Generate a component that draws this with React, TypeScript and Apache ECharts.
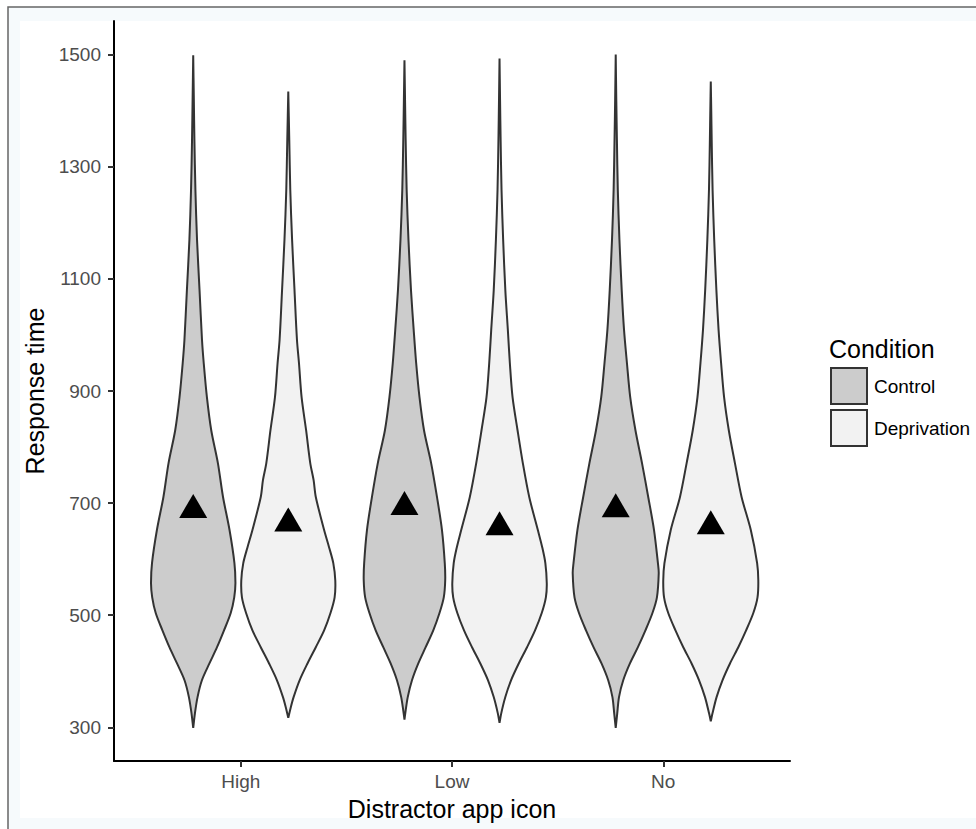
import React, { useEffect, useRef } from "react";
import * as echarts from "echarts";

const categories = ["High", "Low", "No"];
const conditions = ["Control", "Deprivation"];
const yTicks = [300, 500, 700, 900, 1100, 1300, 1500];
const meanControl = [695, 700, 696];
const meanDeprivation = [671, 664, 666];

// violin profiles: [response time, scaled density (1 = widest violin)]
const highControl = [[299,0],[325,0.036],[354,0.091],[384,0.183],[414,0.341],[443,0.501],[473,0.648],[504,0.789],[532,0.863],[557,0.888],[593,0.867],[652,0.764],[711,0.627],[771,0.52],[830,0.379],[889,0.288],[950,0.221],[991,0.185],[1080,0.133],[1170,0.08],[1259,0.046],[1348,0.025],[1420,0.013],[1499,0]];
const highDeprivation = [[317,0],[336,0.053],[354,0.112],[384,0.238],[414,0.404],[443,0.579],[473,0.754],[504,0.888],[532,0.975],[562,0.989],[593,0.947],[621,0.859],[652,0.754],[711,0.579],[741,0.533],[771,0.463],[830,0.375],[889,0.28],[950,0.225],[991,0.183],[1080,0.131],[1170,0.08],[1259,0.042],[1348,0.021],[1434,0]];
const lowControl = [[314,0],[330,0.025],[354,0.069],[384,0.158],[414,0.291],[443,0.446],[473,0.606],[504,0.737],[532,0.827],[562,0.857],[593,0.848],[652,0.789],[711,0.684],[771,0.562],[830,0.411],[889,0.316],[950,0.246],[1009,0.194],[1080,0.137],[1170,0.084],[1259,0.046],[1348,0.025],[1420,0.012],[1490,0]];
const lowDeprivation = [[308,0],[325,0.036],[354,0.122],[384,0.242],[414,0.404],[443,0.579],[473,0.747],[504,0.888],[532,0.975],[557,0.994],[593,0.964],[621,0.899],[652,0.806],[711,0.625],[771,0.491],[830,0.379],[889,0.274],[950,0.217],[1009,0.175],[1080,0.122],[1170,0.076],[1259,0.042],[1348,0.023],[1420,0.011],[1493,0]];
const noControl = [[299,0],[325,0.032],[354,0.069],[384,0.158],[414,0.299],[443,0.467],[473,0.625],[504,0.773],[532,0.867],[575,0.905],[593,0.888],[652,0.806],[711,0.684],[771,0.554],[830,0.415],[889,0.305],[950,0.236],[1009,0.175],[1080,0.126],[1170,0.078],[1259,0.044],[1348,0.025],[1420,0.012],[1500,0]];
const noDeprivation = [[311,0],[325,0.036],[354,0.122],[384,0.246],[414,0.404],[443,0.579],[473,0.743],[504,0.895],[532,0.983],[562,1.0],[593,0.975],[652,0.842],[711,0.648],[771,0.509],[830,0.379],[889,0.28],[950,0.217],[1009,0.164],[1080,0.118],[1170,0.072],[1259,0.038],[1348,0.019],[1400,0.01],[1452,0]];

const controlProfiles = [highControl, lowControl, noControl];
const deprivationProfiles = [highDeprivation, lowDeprivation, noDeprivation];

const FONT = "Liberation Sans, Arial, Helvetica, sans-serif";
const DODGE = 0.225;
const HALF_MAX = 0.225;
const FILLS = ["#cccccc", "#f2f2f2"];
const OUTLINE = "#333333";

function makeRender(profiles: number[][][], offset: number, fill: string) {
  return (params: any, api: any) => {
    const i = params.dataIndex;
    const prof = profiles[i];
    const cx = i + 1 + offset;
    const right = prof.map(([v, d]) => api.coord([cx + d * HALF_MAX, v]));
    const left = prof
      .slice()
      .reverse()
      .map(([v, d]) => api.coord([cx - d * HALF_MAX, v]));
    return {
      type: "polygon",
      shape: { points: right.concat(left), smooth: 0.3 },
      style: { fill, stroke: OUTLINE, lineWidth: 2 },
    };
  };
}

export default function App() {
  const ref = useRef<HTMLDivElement>(null);
  useEffect(() => {
    if (!ref.current) return;
    const chart = echarts.init(ref.current, undefined, { renderer: "svg" });
    const option: any = {
      animation: false,
      backgroundColor: "#ffffff",
      textStyle: { fontFamily: FONT },
      graphic: {
        elements: [
          {
            type: "rect",
            z: -10,
            silent: true,
            shape: { x: 8, y: 7, width: 980, height: 840 },
            style: { fill: "#f6fafc", stroke: "#666666", lineWidth: 1.5 },
          },
          {
            type: "rect",
            z: -9,
            silent: true,
            shape: { x: 20, y: 21, width: 960, height: 797 },
            style: { fill: "#ffffff" },
          },
          {
            type: "text",
            left: 829,
            top: 336,
            style: { text: "Condition", font: `25px ${FONT}`, fill: "#000000" },
          },
        ],
      },
      grid: { left: 114, top: 21, right: 186, bottom: 68, containLabel: false },
      legend: {
        data: conditions,
        orient: "vertical",
        left: 830,
        top: 367,
        padding: 0,
        icon: "rect",
        itemWidth: 36,
        itemHeight: 36,
        itemGap: 4,
        itemStyle: { borderColor: OUTLINE, borderWidth: 2 },
        textStyle: { fontSize: 19, color: "#000000", fontFamily: FONT, padding: [0, 0, 0, 2] },
        selectedMode: false,
      },
      xAxis: {
        type: "value",
        min: 0.4,
        max: 3.6,
        name: "Distractor app icon",
        nameLocation: "middle",
        nameGap: 35,
        nameTextStyle: { fontSize: 25, color: "#000000", fontFamily: FONT },
        axisLine: { show: true, lineStyle: { color: "#000000", width: 2 } },
        axisTick: { show: true, length: 6, customValues: [1, 2, 3], lineStyle: { color: "#333333", width: 2 } },
        axisLabel: {
          show: true,
          customValues: [1, 2, 3],
          formatter: (v: number) => categories[Math.round(v) - 1] ?? "",
          fontSize: 19,
          color: "#4d4d4d",
          margin: 11,
          fontFamily: FONT,
        },
        splitLine: { show: false },
      },
      yAxis: {
        type: "value",
        min: 240,
        max: 1560,
        name: "Response time",
        nameLocation: "middle",
        nameGap: 66,
        nameTextStyle: { fontSize: 25, color: "#000000", fontFamily: FONT },
        axisLine: { show: true, lineStyle: { color: "#000000", width: 2 } },
        axisTick: { show: true, length: 6, customValues: yTicks, lineStyle: { color: "#333333", width: 2 } },
        axisLabel: {
          show: true,
          customValues: yTicks,
          formatter: (v: number) => String(v),
          fontSize: 19,
          color: "#4d4d4d",
          margin: 13,
          fontFamily: FONT,
        },
        splitLine: { show: false },
      },
      series: [
        {
          name: conditions[0],
          type: "custom",
          renderItem: makeRender(controlProfiles, -DODGE, FILLS[0]),
          itemStyle: { color: FILLS[0], borderColor: OUTLINE, borderWidth: 2 },
          encode: { x: 0, y: 1 },
          data: categories.map((_, i) => [i + 1 - DODGE, meanControl[i]]),
          z: 2,
        },
        {
          name: conditions[1],
          type: "custom",
          renderItem: makeRender(deprivationProfiles, DODGE, FILLS[1]),
          itemStyle: { color: FILLS[1], borderColor: OUTLINE, borderWidth: 2 },
          encode: { x: 0, y: 1 },
          data: categories.map((_, i) => [i + 1 + DODGE, meanDeprivation[i]]),
          z: 2,
        },
        {
          name: "Mean Control",
          type: "scatter",
          symbol: "triangle",
          symbolSize: [28, 24],
          itemStyle: { color: "#000000", opacity: 1 },
          data: categories.map((_, i) => [i + 1 - DODGE, meanControl[i]]),
          z: 5,
        },
        {
          name: "Mean Deprivation",
          type: "scatter",
          symbol: "triangle",
          symbolSize: [28, 24],
          itemStyle: { color: "#000000", opacity: 1 },
          data: categories.map((_, i) => [i + 1 + DODGE, meanDeprivation[i]]),
          z: 5,
        },
      ],
    };
    chart.setOption(option);
    return () => chart.dispose();
  }, []);
  return (
    <div
      ref={ref}
      style={{ position: "fixed", left: 0, top: 0, width: 976, height: 829 }}
    />
  );
}
